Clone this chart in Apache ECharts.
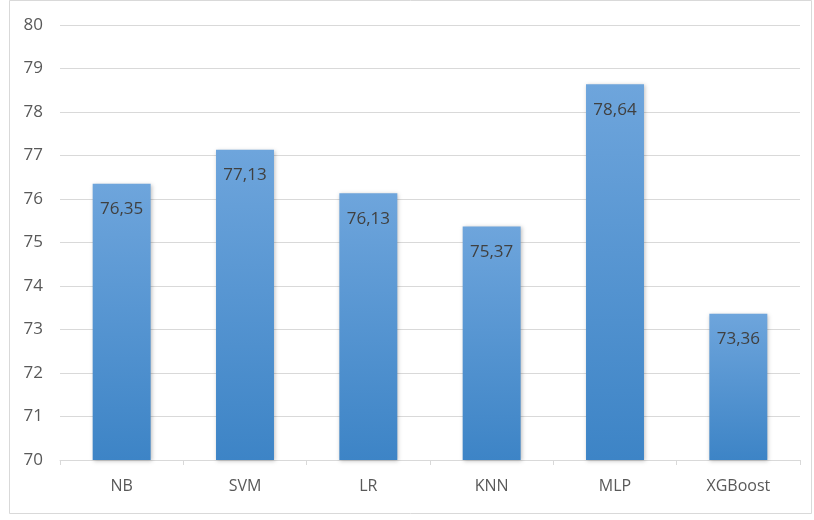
<!DOCTYPE html>
<html>
<head>
<meta charset="utf-8">
<script src="https://cdn.jsdelivr.net/npm/echarts@6/dist/echarts.min.js"></script>
<style>
html,body{margin:0;padding:0;background:#fff;}
#chart{width:814px;height:520px;}
</style>
</head>
<body>
<div id="chart"></div>
<script>
var categories = ['NB', 'SVM', 'LR', 'KNN', 'MLP', 'XGBoost'];
var scores = [76.35, 77.13, 76.13, 75.37, 78.64, 73.36];
var yTicks = [70, 71, 72, 73, 74, 75, 76, 77, 78, 79, 80];

var mychart = echarts.init(document.getElementById('chart'));
var font = 'Open Sans';
var option = {
	backgroundColor: '#fff',
	animation: false,
	graphic: [{
		type: 'rect',
		shape: {x: 9.5, y: 0.5, width: 802, height: 513},
		style: {fill: 'none', stroke: '#d9d9d9', lineWidth: 1},
		silent: true
	}],
	grid: {left: 60, right: 14, top: 25, bottom: 60},
	xAxis: {
		type: 'category',
		data: categories,
		axisLine: {lineStyle: {color: '#d9d9d9'}},
		axisTick: {show: true, length: 5, lineStyle: {color: '#d9d9d9'}},
		axisLabel: {color: '#595959', fontSize: 16, fontFamily: font, margin: 18}
	},
	yAxis: {
		type: 'value',
		min: yTicks[0],
		max: yTicks[yTicks.length - 1],
		interval: 1,
		axisLine: {show: false},
		axisTick: {show: false},
		axisLabel: {color: '#595959', fontSize: 17, fontFamily: font, margin: 17},
		splitLine: {lineStyle: {color: '#d9d9d9'}}
	},
	series: [{
		type: 'bar',
		data: scores,
		barWidth: '47%',
		itemStyle: {
			color: new echarts.graphic.LinearGradient(0, 0, 0, 1, [
				{offset: 0, color: '#6ea5dc'},
				{offset: 1, color: '#3d84c6'}
			]),
			shadowColor: 'rgba(0,0,0,0.25)',
			shadowBlur: 4,
			shadowOffsetX: 1,
			shadowOffsetY: 1
		},
		label: {
			show: true,
			position: 'insideTop',
			distance: 17,
			color: '#404040',
			fontSize: 17,
			fontFamily: font,
			formatter: function (p) { return p.value.toFixed(2).replace('.', ','); }
		}
	}]
};
mychart.setOption(option);
</script>
</body>
</html>
